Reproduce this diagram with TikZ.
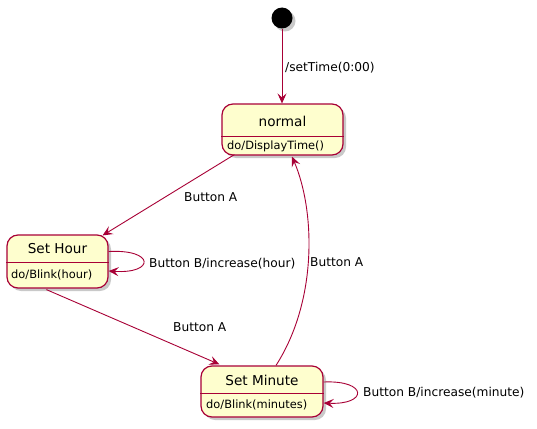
\documentclass[tikz,border=0pt]{standalone}
\usepackage{fontspec}
\setmainfont{DejaVu Sans}
\usetikzlibrary{arrows.meta,shadows}
\definecolor{pborder}{HTML}{A80036}
\definecolor{pfill}{HTML}{FEFECE}
\tikzset{
  statebox/.style={draw=pborder, fill=pfill, line width=1.2pt, rounded corners=11pt,
    drop shadow={shadow xshift=3pt, shadow yshift=-3pt, opacity=0.35, fill=black!60}},
  divider/.style={draw=pborder, line width=1pt},
  titletext/.style={font=\fontsize{13.6}{15}\selectfont, inner sep=0pt},
  bodytext/.style={font=\fontsize{11.4}{13}\selectfont, inner sep=0pt, anchor=west},
  lbl/.style={font=\fontsize{12.2}{14}\selectfont, inner sep=0pt, anchor=west},
  edge/.style={draw=pborder, line width=0.9pt, -{Stealth[length=10pt,width=9pt,inset=4pt]}},
}
\begin{document}
\begin{tikzpicture}[x=1pt,y=-1pt]
\useasboundingbox[fill=white] (0,0) rectangle (537,428);
% initial state
\node[circle, fill=black, minimum size=21pt, inner sep=0pt,
  drop shadow={shadow xshift=3pt, shadow yshift=-3pt, opacity=0.35, fill=black!60}] (init) at (282,18) {};
% normal
\node[statebox, minimum width=121pt, minimum height=51pt] (normal) at (282.5,129.5) {};
\node[titletext] (normalT) at (282.5,121) {normal};
\draw[divider] (normal.west |- 0,136) -- (normal.east |- 0,136);
\node[bodytext] (normalB) at (227,146.5) {do/DisplayTime()};
% Set Hour
\node[statebox, minimum width=101pt, minimum height=53pt] (hour) at (57.5,261.5) {};
\node[titletext] (hourT) at (57.5,249) {Set Hour};
\draw[divider] (hour.west |- 0,262.5) -- (hour.east |- 0,262.5);
\node[bodytext] (hourB) at (11,275) {do/Blink(hour)};
% Set Minute
\node[statebox, minimum width=122pt, minimum height=51pt] (minute) at (262,391.5) {};
\node[titletext] (minuteT) at (262,380) {Set Minute};
\draw[divider] (minute.west |- 0,393) -- (minute.east |- 0,393);
\node[bodytext] (minuteB) at (206,405) {do/Blink(minutes)};
% edges
\draw[edge] (init) -- (normal.north -| init);
\node[lbl] (l1) at (285,68) {/setTime(0:00)};
\draw[edge] ([xshift=13pt,yshift=1pt]normal.south west) -- ([xshift=-6pt,yshift=-1pt]hour.north east);
\node[lbl] (l2) at (184,197) {Button A};
\draw[edge] ([yshift=10pt]hour.east) .. controls (155,249) and (155,274) .. ([yshift=-9.5pt]hour.east);
\node[lbl] (l3) at (149,263.5) {Button B/increase(hour)};
\draw[edge] ([xshift=40pt,yshift=-1pt]hour.south west) -- ([xshift=19pt,yshift=1pt]minute.north west);
\node[lbl] (l4) at (173,327) {Button A};
\draw[edge] ([xshift=14pt]minute.north) .. controls (318,300) and (315,210) .. ([xshift=9.5pt,yshift=-1pt]normal.south);
\node[lbl] (l5) at (310,262) {Button A};
\draw[edge] ([yshift=9.5pt]minute.east) .. controls (368,380) and (368,405) .. ([yshift=-11.5pt]minute.east);
\node[lbl] (l6) at (363,392.5) {Button B/increase(minute)};
\end{tikzpicture}
\end{document}
